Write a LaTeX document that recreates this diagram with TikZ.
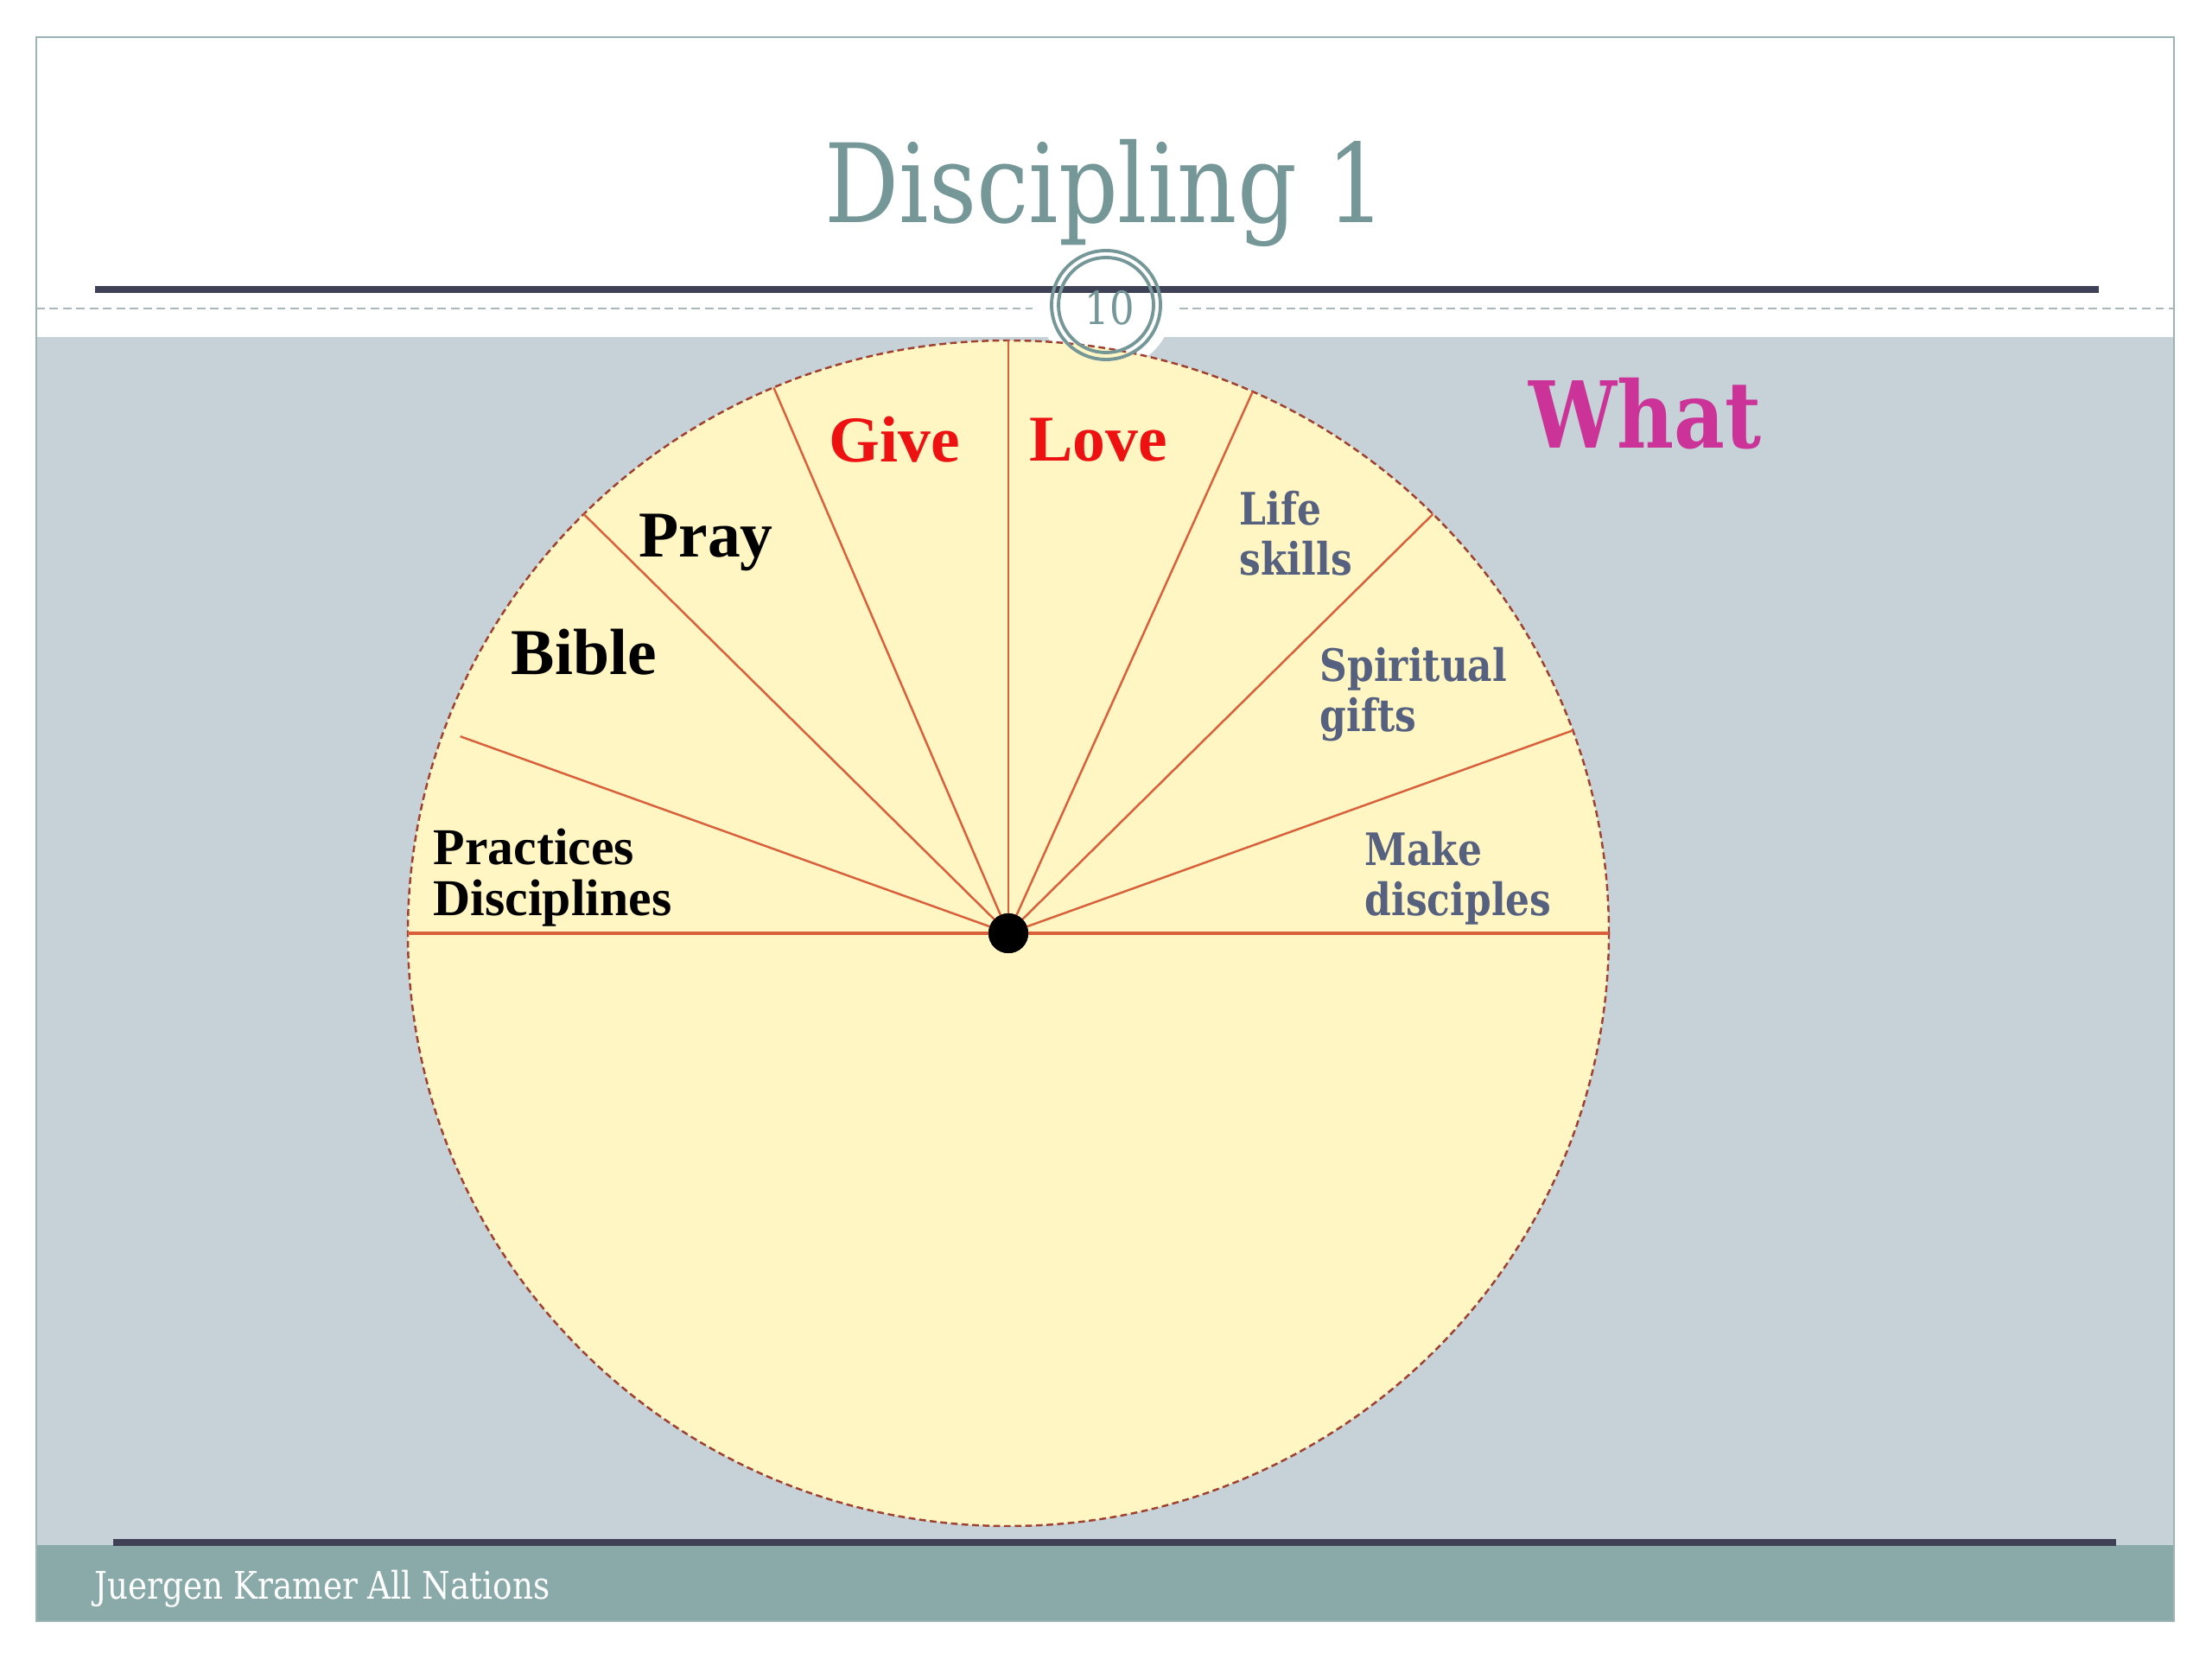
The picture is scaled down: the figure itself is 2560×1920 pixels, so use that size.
\documentclass[tikz,border=0pt]{standalone}
\usepackage{fontspec}
\setmainfont{DejaVu Serif}
\newfontfamily\georgia[FakeStretch=0.85]{DejaVu Serif}
\newfontfamily\timesfont{Liberation Serif}
\usetikzlibrary{positioning,calc}

\definecolor{slidegray}{HTML}{C6D2D8}
\definecolor{footteal}{HTML}{8AAAAA}
\definecolor{framegray}{HTML}{9BB3B3}
\definecolor{barnavy}{HTML}{3F4257}
\definecolor{dashgray}{HTML}{A9B9B9}
\definecolor{titleteal}{HTML}{759797}
\definecolor{piefill}{HTML}{FFF6C4}
\definecolor{spokered}{HTML}{D9603B}
\definecolor{rimred}{HTML}{A04030}
\definecolor{whatpink}{HTML}{CC3399}
\definecolor{givered}{HTML}{EE1111}
\definecolor{slateblue}{HTML}{56607F}

\begin{document}
\begin{tikzpicture}[x=0.01cm, y=0.01cm,
    bigword/.style={font=\timesfont\bfseries\fontsize{21.5}{22}\selectfont, inner sep=0pt, anchor=base},
    leftword/.style={font=\timesfont\bfseries\fontsize{17}{17}\selectfont, inner sep=0pt, align=left, anchor=base west},
    slateword/.style={font=\georgia\bfseries\fontsize{14.7}{16.7}\selectfont, text=slateblue, inner sep=0pt, align=left, anchor=base west},
    spoke/.style={draw=spokered, line width=0.7pt},
    bar/.style={draw=barnavy, line width=2pt}
]
    % slide background
    \useasboundingbox (0,0) rectangle (2560,1920);
    \fill[white] (0,0) rectangle (2560,1920);
    \fill[slidegray] (42,132) rectangle (2516,1530);
    \fill[footteal] (42,44) rectangle (2516,132);
    \fill[white] (1280,1569) circle (78);
    \draw[framegray, line width=0.8pt] (42,44) rectangle (2516,1877);

    % pie
    \coordinate (ctr) at (1167,840);
    \fill[piefill] (ctr) ellipse [x radius=695, y radius=686];
    \draw[rimred, dash pattern=on 2.2pt off 1.3pt, line width=0.7pt] (ctr) ellipse [x radius=695, y radius=686];
    \foreach \a in {0,20,45,66,90,113,135,180}
        \coordinate (rim\a) at ([shift={(\a:695 and 686)}]ctr);
    \coordinate (rim160) at ([shift={(160:675 and 666)}]ctr);
    \node[circle, fill=black, minimum size=0.46cm, inner sep=0pt] (hub) at (ctr) {};
    \foreach \a in {20,45,66,90,113,135,160}
        \draw[spoke] (hub.center) -- (rim\a);
    \draw[spokered, line width=1.4pt] (rim180) -- (rim0);
    \node[circle, fill=black, minimum size=0.46cm, inner sep=0pt] at (hub) {};

    % header and footer rules
    \draw[bar] (110,1585) -- (2429,1585);
    \draw[bar] (131,135) -- (2449,135);
    \draw[dashgray, line width=0.8pt, dash pattern=on 2.8pt off 1.6pt] (42,1563) -- (1195,1563);
    \draw[dashgray, line width=0.8pt, dash pattern=on 2.8pt off 1.6pt] (1365,1563) -- (2516,1563);

    % page badge
    \draw[titleteal, line width=1.1pt] (1280,1567) circle (63);
    \draw[titleteal, line width=1.1pt] (1280,1567) circle (55);
    \node[font=\georgia\fontsize{15}{15}\selectfont, text=titleteal, inner sep=0pt] (pagenum) at (1284,1564) {10};

    % titles
    \node[font=\georgia\fontsize{36}{36}\selectfont, text=titleteal, inner sep=0pt, anchor=base] (title) at (1279,1662) {Discipling 1};
    \node[font=\georgia\bfseries\fontsize{30.4}{30.4}\selectfont, text=whatpink, inner sep=0pt, anchor=base] (what) at (1904,1401) {What};

    % segment labels
    \node[bigword, text=givered] (give) at (1035,1385) {Give};
    \node[bigword, text=givered] (love) at (1271,1386) {Love};
    \node[bigword] (pray) at (817,1275) {Pray};
    \node[bigword] (bible) at (676,1139) {Bible};
    \node[leftword] (practices) at (501,860) {Practices\\Disciplines};
    \node[slateword] (life) at (1434,1254) {Life\\skills};
    \node[slateword] (gifts) at (1527,1073) {Spiritual\\gifts};
    \node[slateword] (make) at (1579,860) {Make\\disciples};

    % footer
    \node[font=\georgia\fontsize{12.5}{12.5}\selectfont, text=white, inner sep=0pt, anchor=base west] (author) at (109,70) {Juergen Kramer All Nations};
\end{tikzpicture}
\end{document}
